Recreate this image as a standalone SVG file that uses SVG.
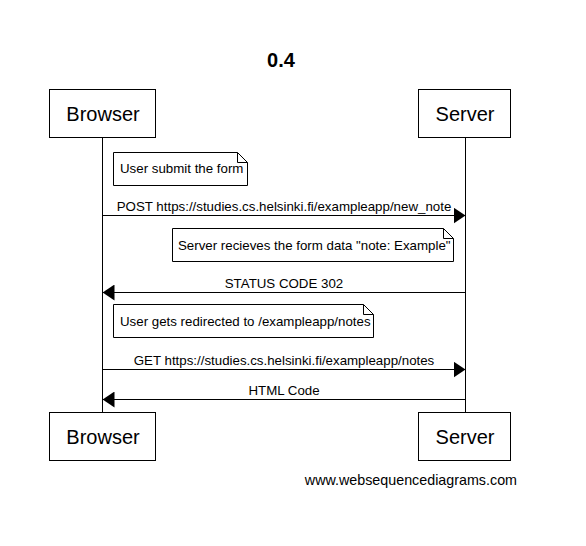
<svg xmlns="http://www.w3.org/2000/svg" width="586" height="546" viewBox="0 0 586 546">
<defs>
<style>
.box{fill:#fff;stroke:#000;stroke-width:1}
.life{stroke:#000;stroke-width:1}
.msg{stroke:#000;stroke-width:1;fill:none}
.note{fill:#fff;stroke:#000;stroke-width:1}
.pt{font-family:"Liberation Sans",Arial,sans-serif;font-size:20px;text-anchor:middle}
.nt{font-family:"Liberation Sans",Arial,sans-serif;font-size:13.3px}
.mt{font-family:"Liberation Sans",Arial,sans-serif;font-size:13.3px;text-anchor:middle}
</style>
<marker id="ah" viewBox="0 0 12 16" refX="12" refY="8" markerWidth="12" markerHeight="16" markerUnits="userSpaceOnUse" orient="auto">
<path d="M0,0 L12,8 L0,16 Z" fill="#000"/>
</marker>
</defs>
<rect width="586" height="546" fill="#fff"/>
<text x="281" y="67" font-family="Liberation Sans,Arial,sans-serif" font-size="20" font-weight="bold" text-anchor="middle">0.4</text>
<g id="lifelines">
<line class="life" x1="102.5" y1="138" x2="102.5" y2="412"/>
<line class="life" x1="465.5" y1="138" x2="465.5" y2="412"/>
</g>
<g id="browser-top"><rect class="box" x="49.5" y="89.5" width="106" height="48"/><text class="pt" x="103" y="121">Browser</text></g>
<g id="server-top"><rect class="box" x="418.5" y="89.5" width="92" height="48"/><text class="pt" x="465" y="121">Server</text></g>
<g id="browser-bottom"><rect class="box" x="49.5" y="412.5" width="106" height="48"/><text class="pt" x="103" y="444">Browser</text></g>
<g id="server-bottom"><rect class="box" x="418.5" y="412.5" width="92" height="48"/><text class="pt" x="465" y="444">Server</text></g>
<g id="note1"><path class="note" d="M113.5,152.5 H237.5 L247.5,162.5 V185.5 H113.5 Z M237.5,152.5 V162.5 H247.5"/><text class="nt" x="120" y="173">User submit the form</text></g>
<g id="note2"><path class="note" d="M172.5,228.5 H443.5 L453.5,238.5 V261.5 H172.5 Z M443.5,228.5 V238.5 H453.5"/><text class="nt" x="178" y="250">Server recieves the form data "note: Example"</text></g>
<g id="note3"><path class="note" d="M113.5,304.5 H363.5 L373.5,314.5 V337.5 H113.5 Z M363.5,304.5 V314.5 H373.5"/><text class="nt" x="120" y="326">User gets redirected to /exampleapp/notes</text></g>
<g id="connectors">
<line class="msg" x1="102.5" y1="215.5" x2="465.5" y2="215.5" marker-end="url(#ah)"/>
<line class="msg" x1="465.5" y1="292.5" x2="102.5" y2="292.5" marker-end="url(#ah)"/>
<line class="msg" x1="102.5" y1="369.5" x2="465.5" y2="369.5" marker-end="url(#ah)"/>
<line class="msg" x1="465.5" y1="399.5" x2="102.5" y2="399.5" marker-end="url(#ah)"/>
</g>
<g id="labels">
<text class="mt" x="284" y="211">POST https://studies.cs.helsinki.fi/exampleapp/new_note</text>
<text class="mt" x="284" y="288">STATUS CODE 302</text>
<text class="mt" x="284" y="365">GET https://studies.cs.helsinki.fi/exampleapp/notes</text>
<text class="mt" x="284" y="395">HTML Code</text>
</g>
<text x="517" y="485" font-family="Liberation Sans,Arial,sans-serif" font-size="14.3" text-anchor="end">www.websequencediagrams.com</text>
</svg>
